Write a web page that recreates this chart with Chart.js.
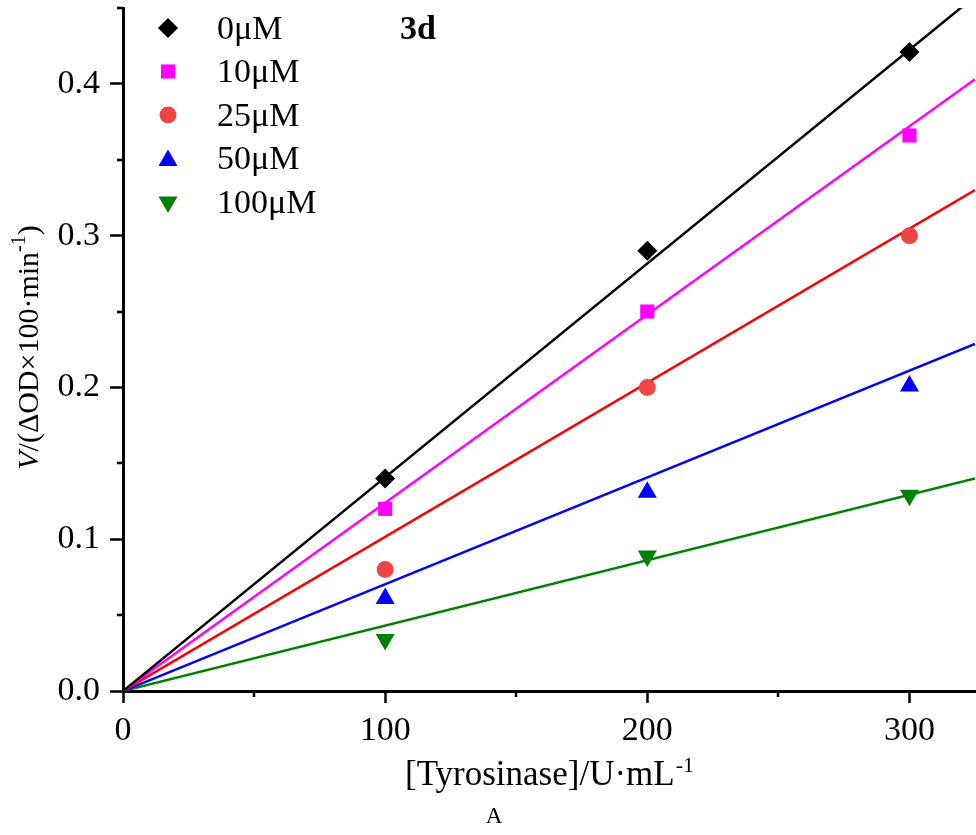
<!DOCTYPE html>
<html>
<head>
<meta charset="utf-8">
<script src="https://cdn.jsdelivr.net/npm/chart.js@4/dist/chart.umd.min.js"></script>
<style>
    html, body { margin: 0; padding: 0; background: #fff; }
    #wrap { width: 976px; height: 835px; }
</style>
</head>
<body>
<div id="wrap"><canvas id="chart" width="976" height="835"></canvas></div>
<script>
// Data
const seriesLabels = ['0μM', '10μM', '25μM', '50μM', '100μM'];
const enzymeConc = [100, 200, 300];
const v0uM = [0.14, 0.29, 0.421];
const v10uM = [0.12, 0.25, 0.366];
const v25uM = [0.08, 0.20, 0.30];
const v50uM = [0.061, 0.131, 0.201];
const v100uM = [0.034, 0.089, 0.129];
// fitted line value at the right edge of the axis (x = 325)
const fitXEnd = 325;
const fitEnd = [0.4577, 0.403, 0.330, 0.2287, 0.140];

const pointColors = ['#000000', '#FF00FF', '#F04545', '#0000FF', '#008000'];
const lineColors = ['#000000', '#FF00FF', '#FF0000', '#0000FF', '#008000'];
const pointStyles = ['rectRot', 'rect', 'circle', 'triangle', 'triangle'];
const pointRotations = [0, 0, 0, 0, 180];
const pointRadii = [10, 10, 8.5, 11, 11];

const FONT = "'Liberation Serif', 'Times New Roman', serif";
const allValues = [v0uM, v10uM, v25uM, v50uM, v100uM];

const datasets = [];
seriesLabels.forEach((name, i) => {
    datasets.push({
        type: 'line',
        label: name + ' fit',
        data: [{ x: 0, y: 0 }, { x: fitXEnd, y: fitEnd[i] }],
        borderColor: lineColors[i],
        borderWidth: 2.5,
        pointRadius: 0,
        fill: false,
        order: 2
    });
});
seriesLabels.forEach((name, i) => {
    datasets.push({
        type: 'scatter',
        label: name,
        data: enzymeConc.map((x, j) => ({ x: x, y: allValues[i][j] })),
        backgroundColor: pointColors[i],
        borderColor: pointColors[i],
        borderWidth: 0,
        pointStyle: pointStyles[i],
        rotation: pointRotations[i],
        pointRadius: pointRadii[i],
        order: 1
    });
});

function isMajorY(v) { return Math.abs(Math.round(v * 10) - v * 10) < 1e-6; }
function isMajorX(v) { return Math.round(v) % 100 === 0; }

// same shapes as chart.js point styles, for the legend
function legendMarker(ctx, style, rot, x, y, r) {
    ctx.beginPath();
    if (style === 'circle') {
        ctx.arc(x, y, r, 0, Math.PI * 2);
    } else if (style === 'rect') {
        const s = Math.SQRT1_2 * r;
        ctx.rect(x - s, y - s, 2 * s, 2 * s);
    } else if (style === 'rectRot') {
        ctx.moveTo(x, y - r);
        ctx.lineTo(x + r, y);
        ctx.lineTo(x, y + r);
        ctx.lineTo(x - r, y);
        ctx.closePath();
    } else if (style === 'triangle') {
        let a = rot * Math.PI / 180;
        ctx.moveTo(x + Math.sin(a) * r, y - Math.cos(a) * r);
        a += 2 * Math.PI / 3;
        ctx.lineTo(x + Math.sin(a) * r, y - Math.cos(a) * r);
        a += 2 * Math.PI / 3;
        ctx.lineTo(x + Math.sin(a) * r, y - Math.cos(a) * r);
        ctx.closePath();
    }
    ctx.fill();
}

// draws minor ticks, legend, axis titles and labels
const decorations = {
    id: 'decorations',
    afterDraw(chart) {
        const ctx = chart.ctx;
        const xs = chart.scales.x, ys = chart.scales.y;
        const area = chart.chartArea;
        ctx.save();
        ctx.strokeStyle = '#000';
        ctx.lineWidth = 2.5;
        ys.ticks.forEach(t => {
            if (!isMajorY(t.value)) {
                const py = Math.round(ys.getPixelForValue(t.value));
                ctx.beginPath();
                ctx.moveTo(area.left - 6, py);
                ctx.lineTo(area.left, py);
                ctx.stroke();
            }
        });
        xs.ticks.forEach(t => {
            if (!isMajorX(t.value)) {
                const px = Math.round(xs.getPixelForValue(t.value));
                ctx.beginPath();
                ctx.moveTo(px, area.bottom);
                ctx.lineTo(px, area.bottom + 6);
                ctx.stroke();
            }
        });

        // legend
        ctx.textBaseline = 'middle';
        ctx.textAlign = 'left';
        ctx.font = '34px ' + FONT;
        seriesLabels.forEach((name, i) => {
            const y = 28 + i * 43.5;
            ctx.fillStyle = pointColors[i];
            legendMarker(ctx, pointStyles[i], pointRotations[i], 168, y + (i === 3 ? 2 : 0), pointRadii[i]);
            ctx.fillStyle = '#000';
            ctx.fillText(name, 217, y + 2);
        });
        ctx.font = 'bold 34px ' + FONT;
        ctx.fillText('3d', 400, 30);

        // x title
        const cx = (area.left + area.right) / 2;
        ctx.textBaseline = 'alphabetic';
        const xMain = '[Tyrosinase]/U·mL';
        ctx.font = '35px ' + FONT;
        const wMain = ctx.measureText(xMain).width;
        ctx.font = '22px ' + FONT;
        const wSup = ctx.measureText('-1').width;
        const sx = cx - (wMain + wSup) / 2;
        ctx.font = '35px ' + FONT;
        ctx.fillText(xMain, sx, 785);
        ctx.font = '22px ' + FONT;
        ctx.fillText('-1', sx + wMain + 1, 772);

        // y title (rotated)
        ctx.save();
        ctx.translate(38, (area.top + area.bottom) / 2 - 2);
        ctx.rotate(-Math.PI / 2);
        const parts = [
            { t: 'V', f: 'italic 30px ' + FONT, dy: 0 },
            { t: '/(ΔOD×100·min', f: '30px ' + FONT, dy: 0 },
            { t: '-1', f: '20px ' + FONT, dy: -13 },
            { t: ')', f: '30px ' + FONT, dy: 0 }
        ];
        let total = 0;
        parts.forEach(p => { ctx.font = p.f; p.w = ctx.measureText(p.t).width; total += p.w; });
        let px = -total / 2;
        parts.forEach(p => {
            ctx.font = p.f;
            ctx.fillText(p.t, px, p.dy);
            px += p.w;
        });
        ctx.restore();

        // panel caption
        ctx.font = '23px ' + FONT;
        ctx.textAlign = 'center';
        ctx.fillText('A', 494, 823);
        ctx.restore();
    }
};

new Chart(document.getElementById('chart'), {
    data: { datasets: datasets },
    options: {
        responsive: false,
        animation: false,
        layout: {
            autoPadding: false,
            padding: { top: 8, right: 1, left: 0, bottom: 0 }
        },
        plugins: {
            legend: { display: false },
            tooltip: { enabled: false }
        },
        scales: {
            x: {
                type: 'linear',
                min: 0,
                max: fitXEnd,
                border: { color: '#000', width: 3 },
                grid: {
                    drawOnChartArea: false,
                    tickLength: 12,
                    tickWidth: 2.5,
                    tickColor: c => (c.tick && isMajorX(c.tick.value)) ? '#000' : 'rgba(0,0,0,0)'
                },
                ticks: {
                    stepSize: 50,
                    includeBounds: false,
                    autoSkip: false,
                    maxRotation: 0,
                    padding: 8,
                    color: '#000',
                    font: { family: FONT, size: 34 },
                    callback: v => isMajorX(v) ? String(v) : ''
                },
                afterFit: s => {
                    s.height = 144;
                    s.paddingLeft = 0;
                    s.paddingRight = 0;
                }
            },
            y: {
                type: 'linear',
                min: 0,
                max: 0.45,
                border: { color: '#000', width: 3 },
                grid: {
                    drawOnChartArea: false,
                    tickLength: 13,
                    tickWidth: 2.5,
                    tickColor: c => (c.tick && isMajorY(c.tick.value)) ? '#000' : 'rgba(0,0,0,0)'
                },
                ticks: {
                    stepSize: 0.05,
                    autoSkip: false,
                    padding: 10,
                    color: '#000',
                    font: { family: FONT, size: 34 },
                    callback: v => isMajorY(v) ? v.toFixed(1) : ''
                },
                afterFit: s => {
                    s.width = 123;
                    s.paddingTop = 0;
                    s.paddingBottom = 0;
                }
            }
        }
    },
    plugins: [decorations]
});
</script>
</body>
</html>
